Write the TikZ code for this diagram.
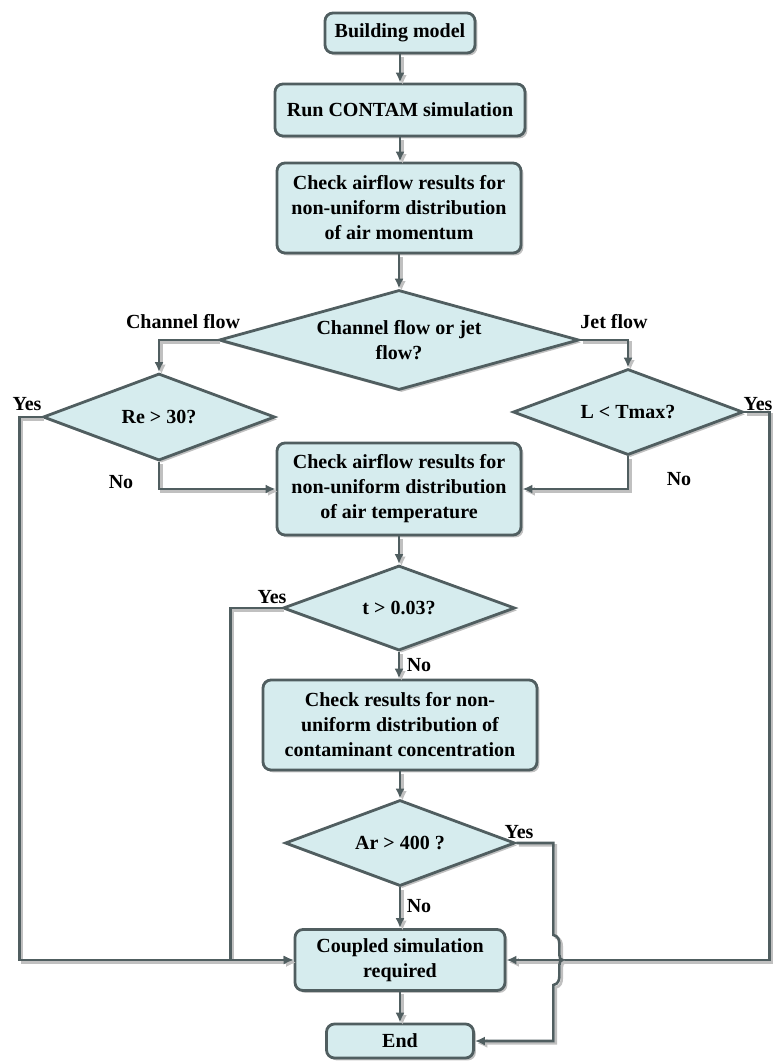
\documentclass[tikz,border=0pt]{standalone}
\usepackage{fontspec}
\setmainfont{Liberation Serif}
\usetikzlibrary{arrows.meta, shapes.geometric, shadows}
\definecolor{bord}{RGB}{80,94,96}
\definecolor{fond}{RGB}{214,236,238}
\definecolor{ombre}{RGB}{192,192,192}
\tikzset{
  boite/.style={draw=bord, fill=fond, line width=1.4pt, rounded corners=4pt, align=center, inner sep=0pt,
    font=\fontsize{10}{12.5}\selectfont\bfseries,
    drop shadow={shadow xshift=1.2pt, shadow yshift=-1.2pt, fill=ombre, opacity=1}},
  test/.style={diamond, draw=bord, fill=fond, line width=1.4pt, align=center, inner sep=0pt, aspect=2.6,
    font=\fontsize{10}{12.5}\selectfont\bfseries,
    drop shadow={shadow xshift=1.2pt, shadow yshift=-1.2pt, fill=ombre, opacity=1}},
  fleche/.style={draw=bord, line width=1.3pt, -{Latex[length=5pt,width=4.5pt]},
    preaction={draw=ombre, line width=1.3pt, transform canvas={shift={(1.2pt,-1.2pt)}}}},
  etiq/.style={font=\fontsize{10}{12}\selectfont\bfseries, inner sep=0pt}
}
\begin{document}
\begin{tikzpicture}[x=0.5pt,y=-0.5pt]
  \useasboundingbox (0,0) rectangle (773,1061);

  % Etapes et tests
  \node[boite, minimum width=75pt, minimum height=20pt] (modele) at (400,33) {Building model};
  \node[boite, minimum width=125pt, minimum height=26pt] (contam) at (400,110) {Run CONTAM simulation};
  \node[boite, minimum width=122pt, minimum height=45pt] (quantmvt) at (399,208)
    {Check airflow results for\\non-uniform distribution\\of air momentum};
  \node[test, minimum width=180pt, minimum height=50pt, aspect=3.6] (type) at (399,340)
    {Channel flow or jet\\flow?};
  \node[test, minimum width=116pt, minimum height=43.5pt] (reyn) at (159,417) {Re > 30?};
  \node[test, minimum width=115pt, minimum height=43pt] (longueur) at (628,412) {L < Tmax?};
  \node[boite, minimum width=122pt, minimum height=46pt] (temp) at (399,489)
    {Check airflow results for\\non-uniform distribution\\of air temperature};
  \node[test, minimum width=116pt, minimum height=42.5pt] (tau) at (399,608) {t > 0.03?};
  \node[boite, minimum width=137pt, minimum height=45pt] (conc) at (400,725)
    {Check results for non-\\uniform distribution of\\contaminant concentration};
  \node[test, minimum width=115pt, minimum height=43pt] (archi) at (400,843) {Ar > 400 ?};
  \node[boite, minimum width=105pt, minimum height=30.5pt] (couple) at (400,960)
    {Coupled simulation\\required};
  \node[boite, minimum width=73.5pt, minimum height=17pt] (fin) at (400,1041) {End};

  % Liaisons
  \draw[fleche] (modele) -- (contam);
  \draw[fleche] (contam) -- (contam |- quantmvt.north);
  \draw[fleche] (quantmvt) -- (type);
  \draw[fleche] (type.west) -| (reyn.north);
  \draw[fleche] (type.east) -| (longueur.north);
  \draw[fleche] (reyn.west) -- ++(-22,0) |- (couple.west);
  \draw[fleche] (reyn.south) |- (temp.west);
  \draw[fleche] (longueur.south) |- (temp.east);
  \draw[fleche] (longueur.east) -- ++(25,0) |- (couple.east);
  \draw[fleche] (temp) -- (tau);
  \draw[fleche] (tau.west) -- ++(-51,0) |- (couple.west);
  \draw[fleche] (tau) -- (tau |- conc.north);
  \draw[fleche] (conc) -- (archi);
  \draw[fleche] (archi) -- (couple);
  \draw[fleche] (couple) -- (fin);
  % saut par-dessus la ligne horizontale
  \draw[fleche] (archi.east) -- ++(37,0) -- ++(0,92)
    .. controls +(5,1) and +(0,-5) .. ++(6,10) -- ++(0,10)
    .. controls +(0,3) and +(-2,0) .. ++(3,5)
    .. controls +(-2,0) and +(0,-3) .. ++(-3,5) -- ++(0,10)
    .. controls +(0,5) and +(5,-1) .. ++(-6,10) |- (fin.east);

  % Etiquettes
  \node[etiq] (lcanal) at (183,322) {Channel flow};
  \node[etiq] (ljet) at (614,322) {Jet flow};
  \node[etiq] (lreoui) at (27,404) {Yes};
  \node[etiq] (lrenon) at (121,482) {No};
  \node[etiq] (llnon) at (679,479) {No};
  \node[etiq] (lloui) at (758,404) {Yes};
  \node[etiq] (ltoui) at (272,597) {Yes};
  \node[etiq] (ltnon) at (419,665) {No};
  \node[etiq] (laoui) at (519,832) {Yes};
  \node[etiq] (lanon) at (419,906) {No};
\end{tikzpicture}
\end{document}
